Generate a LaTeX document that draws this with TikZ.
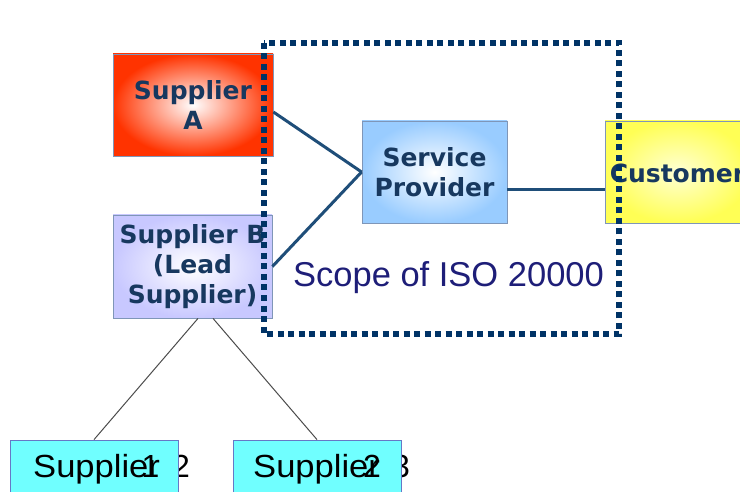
\documentclass[tikz,border=0pt]{standalone}
\usepackage{fontspec}
\setmainfont{Liberation Sans}
\newfontfamily\boxfont{DejaVu Sans}
\usetikzlibrary{positioning}
\definecolor{txtblue}{HTML}{17385F}
\definecolor{scopeblue}{HTML}{003366}
\definecolor{navy}{HTML}{1E1E78}
\definecolor{linkblue}{HTML}{1F4E79}
\definecolor{supred}{HTML}{FF3300}
\definecolor{suplav}{HTML}{C8C8FF}
\definecolor{provblue}{HTML}{99CCFF}
\definecolor{custyel}{HTML}{FFFF55}
\definecolor{subcyan}{HTML}{70FFFF}
\definecolor{edgeblue}{HTML}{7F96B8}

\begin{document}
\begin{tikzpicture}[x=1pt, y=-1pt, every node/.style={inner sep=0pt, align=center},
  caja/.style={draw=edgeblue, line width=0.8pt, minimum width=160pt, minimum height=102pt,
    font=\boxfont\bfseries\fontsize{25}{30}\selectfont, text=txtblue},
  subcaja/.style={draw=edgeblue!80!blue, line width=0.8pt, fill=subcyan, minimum width=168pt,
    minimum height=60pt},
  rotulo/.style={anchor=base west, font=\fontsize{32}{36}\selectfont},
  enlace/.style={draw=linkblue, line width=3pt},
  rama/.style={draw=black!70, line width=1pt},
  alcance/.style={draw=scopeblue, line width=6pt, dash pattern=on 6pt off 4.5pt}]
\clip (0,0) rectangle (740,492);
\fill[white] (0,0) rectangle (740,492);
% upper row
\node[caja, inner color=white, outer color=supred] (supA) at (193,105) {Supplier\\A};
\node[caja, inner color=white, outer color=suplav, minimum width=159pt, minimum height=103pt] (supB) at (192.5,266.5) {Supplier B\\(Lead\\Supplier)};
\node[caja, inner color=white, outer color=provblue, minimum width=145pt] (prov) at (434.5,172) {Service\\Provider};
\node[caja, inner color=custyel!25, outer color=custyel, minimum width=145pt, text height=22pt, text depth=0pt] (cust) at (677.5,172) {Customer};
\draw[enlace] ([yshift=-7pt]supA.east) -- (prov.west);
\draw[enlace] (supB.east) -- (prov.west);
\draw[enlace] ([yshift=-18pt]prov.east) -- ([yshift=-18pt]cust.west);
% lower row
\node[rotulo] (d2) at (172,477) {2};
\node[rotulo] (d3) at (392,477) {3};
\node[subcaja] (s1) at (94,470) {};
\node[subcaja] (s2) at (317,470) {};
\node[rotulo] (t1) at (33,477) {\scalebox{1.08}[1]{Supplier}};
\node[rotulo] (t2) at (253,477) {\scalebox{1.08}[1]{Supplier}};
\node[rotulo] (d1) at (141.5,477) {1};
\node[rotulo] (d2b) at (363,477) {2};
\draw[rama] ([xshift=5.5pt]supB.south) -- (s1.north);
\draw[rama] ([xshift=20.5pt]supB.south) -- (s2.north);
% scope
\coordinate (sc1) at (264,43);
\coordinate (sc2) at (619,334);
\draw[alcance] (sc1) rectangle (sc2);
\node[anchor=base, text=navy, font=\fontsize{34.5}{38}\selectfont] (scope) at (448.5,287) {Scope of ISO 20000};
\end{tikzpicture}
\end{document}
